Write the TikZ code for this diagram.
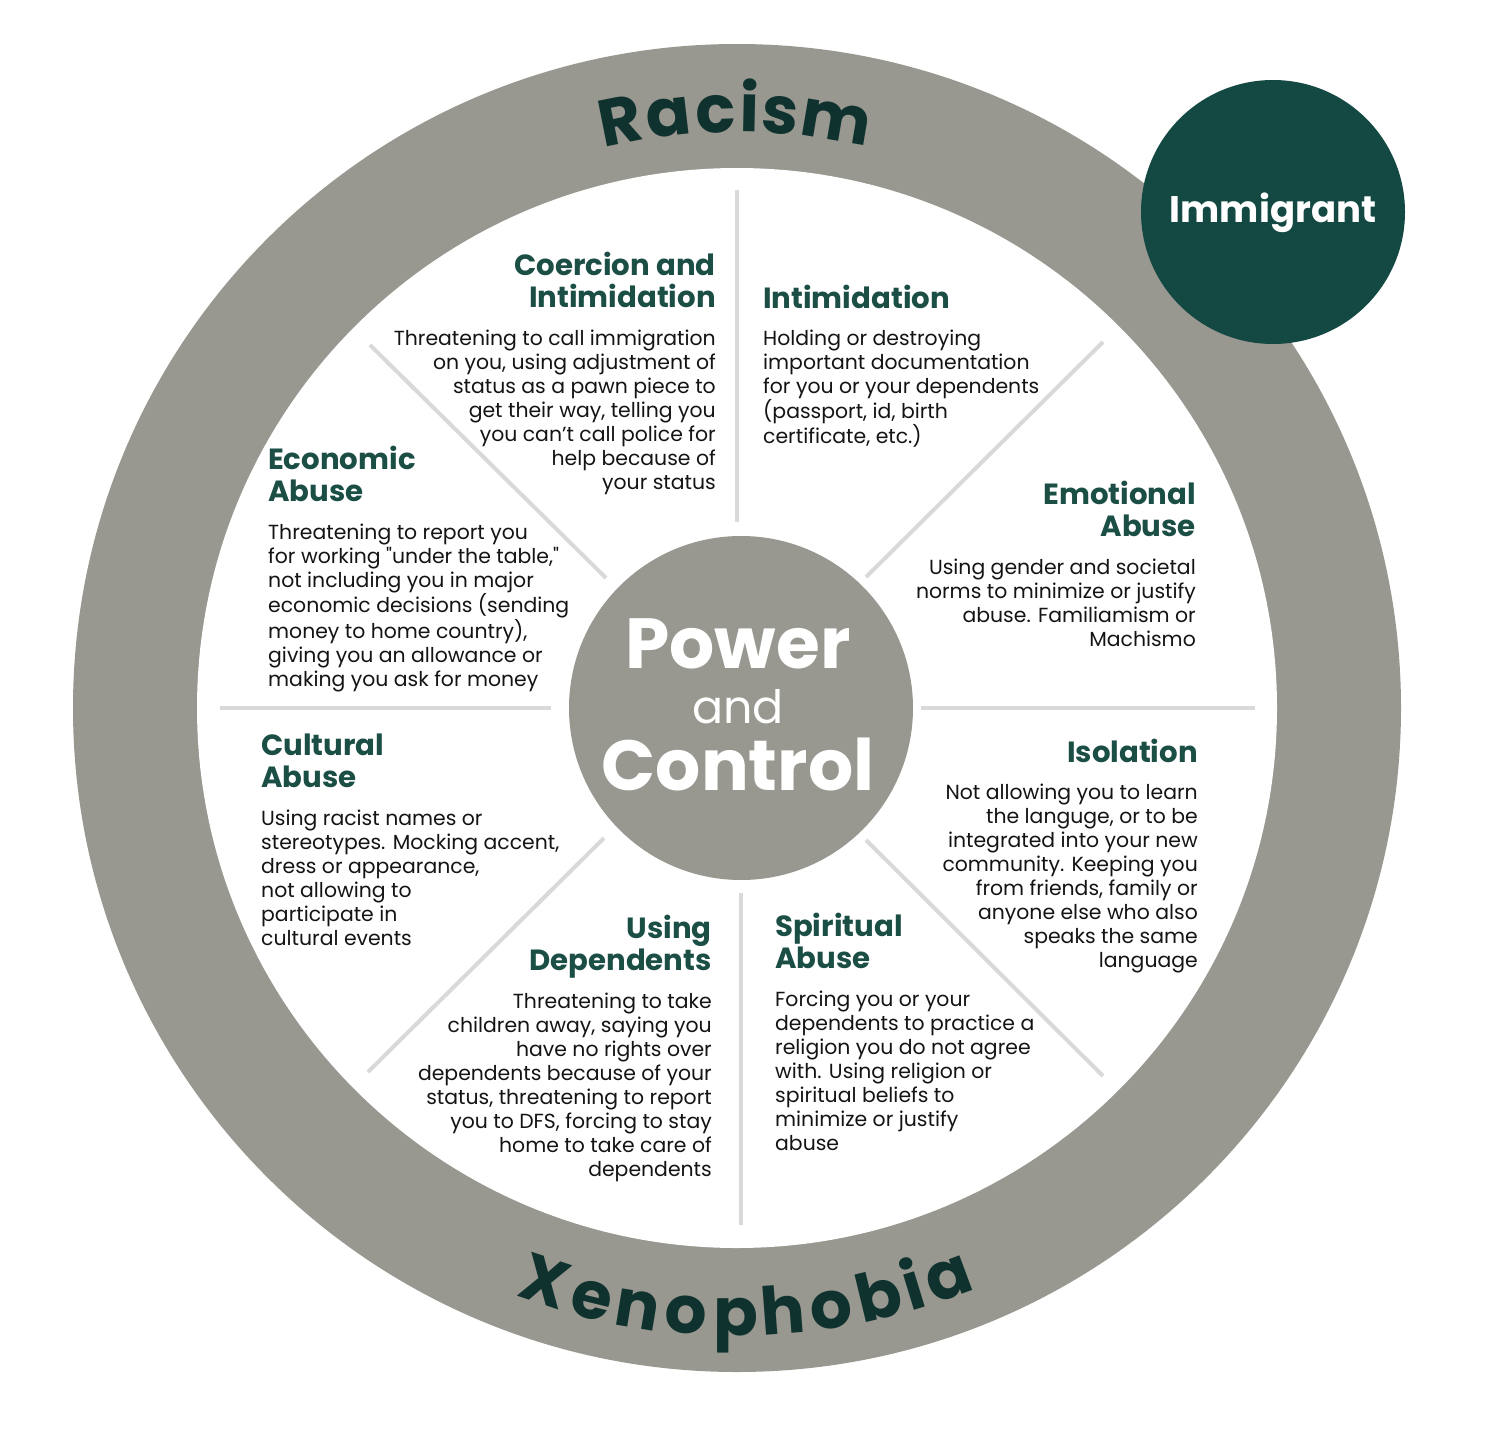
\documentclass[tikz,border=0pt]{standalone}
\usepackage{fontspec}
\setmainfont{Poppins}
\newfontfamily\straightq{Poppins}[Ligatures=TeXOff]
\definecolor{ringgray}{RGB}{152,151,144}
\definecolor{spokegray}{RGB}{217,217,217}
\definecolor{deepgreen}{RGB}{20,72,66}
\definecolor{titlegreen}{RGB}{27,78,69}
\definecolor{ringtext}{RGB}{15,50,46}
\definecolor{bodyblack}{RGB}{20,20,20}
\tikzset{
  disc/.style={circle, inner sep=0pt, outer sep=0pt, draw=none},
  spokeline/.style={draw=spokegray, line width=4pt},
  ringletter/.style={inner sep=0pt, anchor=base, text=ringtext, font=\fontsize{66}{66}\selectfont\bfseries},
  ttl/.style={inner sep=0pt, text=titlegreen, font=\fontsize{29.2}{32.5}\selectfont\bfseries},
  bdy/.style={inner sep=0pt, text=bodyblack, font=\fontsize{20.4}{24}\selectfont},
  hubtxt/.style={inner sep=0pt, anchor=base, text=white},
}
\newcommand\rblock[1]{\parbox[t]{420pt}{\raggedleft #1}}
\newcommand\lblock[1]{\parbox[t]{420pt}{\raggedright #1}}
\newcommand\dq{{\straightq\symbol{34}}}
\begin{document}
\begin{tikzpicture}[x=1pt,y=-1pt]
\useasboundingbox (0,0) rectangle (1500,1440);
\fill[white] (0,0) rectangle (1500,1440);
% ring
\node[disc, fill=ringgray, minimum size=1328pt] (outer) at (737,708) {};
\node[disc, fill=white, minimum size=1080pt] (inner) at (737,708) {};
% spokes
\coordinate (sp1a) at (737,190);  \coordinate (sp1b) at (737,522);
\coordinate (sp2a) at (1103,342); \coordinate (sp2b) at (866,577);
\coordinate (sp3a) at (921,708);  \coordinate (sp3b) at (1255,708);
\coordinate (sp4a) at (866,840);  \coordinate (sp4b) at (1103,1076);
\coordinate (sp5a) at (741,893);  \coordinate (sp5b) at (741,1225);
\coordinate (sp6a) at (604,838);  \coordinate (sp6b) at (368,1072);
\coordinate (sp7a) at (220,708);  \coordinate (sp7b) at (551,708);
\coordinate (sp8a) at (370,345);  \coordinate (sp8b) at (606,578);
\foreach \k in {1,...,8} \draw[spokeline] (sp\k a) -- (sp\k b);
% hub
\node[disc, fill=ringgray, minimum size=344pt] (hub) at (741,708) {};
\node[hubtxt, font=\fontsize{71}{71}\selectfont\bfseries] (power) at (738,668) {Power};
\node[hubtxt, font=\fontsize{46}{46}\selectfont] (and) at (738,723) {and};
\node[hubtxt, font=\fontsize{71}{71}\selectfont\bfseries] (control) at (738,790) {Control};
% ring words
\foreach \ch/\ang [count=\i] in {R/-11.29, a/-6.60, c/-2.01, i/1.20, s/4.17, m/9.58}
  \node[ringletter, rotate=-\ang] (rac\i) at ([shift={(737,708)}] \ang-90:576) {\ch};
\foreach \ch/\ang [count=\i] in {X/-18.53, e/-13.78, n/-9.36, o/-4.83, p/-0.13, h/4.39, o/8.91, b/13.61, i/16.97, a/20.34}
  \node[ringletter, rotate=\ang] (xen\i) at ([shift={(737,708)}] 90-\ang:628) {\ch};
% immigrant
\node[disc, fill=deepgreen, minimum size=264pt] (imm) at (1273,212) {};
\node[hubtxt, font=\fontsize{37}{37}\selectfont\bfseries] (immtxt) at (1273,222) {Immigrant};
% Coercion and Intimidation
\node[ttl, anchor=base east] (t1) at (716,275) {\rblock{Coercion and\\Intimidation}};
\node[bdy, anchor=base east] (b1) at (716,345) {\rblock{Threatening to call immigration\\on you, using adjustment of\\status as a pawn piece to\\get their way, telling you\\you can’t call police for\\help because of\\your status}};
% Intimidation
\node[ttl, anchor=base west] (t2) at (763,308) {\lblock{Intimidation}};
\node[bdy, anchor=base west] (b2) at (763,345) {\lblock{Holding or destroying\\important documentation\\for you or your dependents\\(passport, id, birth\\certificate, etc.)}};
% Emotional Abuse
\node[ttl, anchor=base east] (t3) at (1196,504) {\rblock{Emotional\\Abuse}};
\node[bdy, anchor=base east] (b3) at (1196,574) {\rblock{Using gender and societal\\norms to minimize or justify\\abuse. Familiamism or\\Machismo}};
% Isolation
\node[ttl, anchor=base east] (t4) at (1198,762) {\rblock{Isolation}};
\node[bdy, anchor=base east] (b4) at (1198,799) {\rblock{Not allowing you to learn\\the languge, or to be\\integrated into your new\\community. Keeping you\\from friends, family or\\anyone else who also\\speaks the same\\language}};
% Spiritual Abuse
\node[ttl, anchor=base west] (t5) at (775,936) {\lblock{Spiritual\\Abuse}};
\node[bdy, anchor=base west] (b5) at (775,1006) {\lblock{Forcing you or your\\dependents to practice a\\religion you do not agree\\with. Using religion or\\spiritual beliefs to\\minimize or justify\\abuse}};
% Using Dependents
\node[ttl, anchor=base east] (t6) at (712,938) {\rblock{Using\\Dependents}};
\node[bdy, anchor=base east] (b6) at (712,1008) {\rblock{Threatening to take\\children away, saying you\\have no rights over\\dependents because of your\\status, threatening to report\\you to DFS, forcing to stay\\home to take care of\\dependents}};
% Cultural Abuse
\node[ttl, anchor=base west] (t7) at (261,755) {\lblock{Cultural\\Abuse}};
\node[bdy, anchor=base west] (b7) at (261,825) {\lblock{Using racist names or\\stereotypes. Mocking accent,\\dress or appearance,\\not allowing to\\participate in\\cultural events}};
% Economic Abuse
\node[ttl, anchor=base west] (t8) at (268,469) {\lblock{Economic\\Abuse}};
\node[bdy, anchor=base west] (b8) at (268,539) {\lblock{Threatening to report you\\for working \dq under the table,\dq\\not including you in major\\economic decisions (sending\\money to home country),\\giving you an allowance or\\making you ask for money}};
\end{tikzpicture}
\end{document}
